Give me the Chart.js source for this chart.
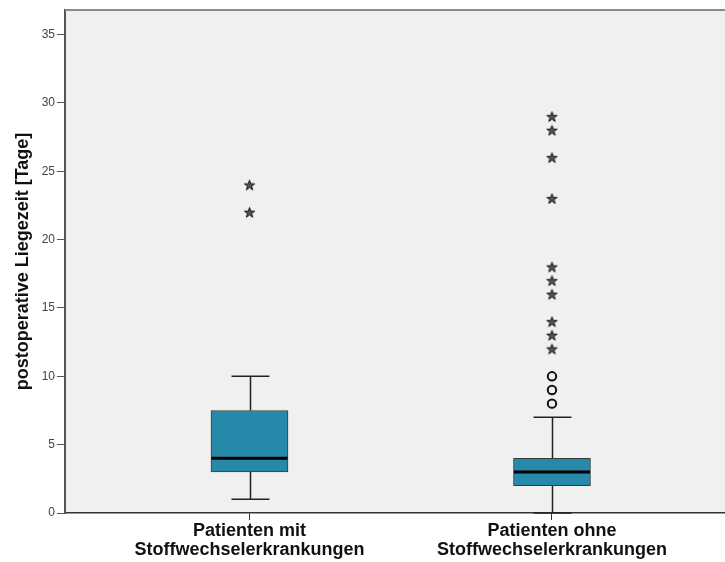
<!DOCTYPE html>
<html>
<head>
<meta charset="utf-8">
<script src="https://cdn.jsdelivr.net/npm/chart.js@4/dist/chart.umd.min.js"></script>
<style>
  html, body { margin: 0; padding: 0; background: #ffffff; }
  #wrap { width: 725px; height: 562px; }
</style>
</head>
<body>
<div id="wrap"><canvas id="c" width="725" height="562"></canvas></div>
<script>
// Gruppen (zweizeilige Beschriftung)
const groups = [
  ['Patienten mit', 'Stoffwechselerkrankungen'],
  ['Patienten ohne', 'Stoffwechselerkrankungen']
];
const groupPos = [1, 2];

// Boxplot-Kennwerte je Gruppe (Tage)
const whiskerLow  = [1, 0];
const quart1      = [3, 2];
const medianVals  = [4, 3];
const quart3      = [7.5, 4];
const whiskerHigh = [10, 7];

// Ausreißer (Kreise) und Extremwerte (Sterne)
const outliersG1 = [];
const outliersG2 = [8, 9, 10];
const extremesG1 = [22, 24];
const extremesG2 = [12, 13, 14, 16, 17, 18, 23, 26, 28, 29];

// Y-Achse
const yTicks = [0, 5, 10, 15, 20, 25, 30, 35];
const yMax = 36.8;

const FONT = "'Liberation Sans', Arial, sans-serif";

// Sternsymbol für Extremwerte
function makeStar() {
  const s = 13, c = document.createElement('canvas');
  c.width = s; c.height = s;
  const g = c.getContext('2d');
  const cx = s / 2, cy = s / 2 + 0.5, ro = 5.4, ri = 2.1;
  g.beginPath();
  for (let k = 0; k < 10; k++) {
    const r = k % 2 === 0 ? ro : ri;
    const a = -Math.PI / 2 + k * Math.PI / 5;
    const px = cx + r * Math.cos(a), py = cy + r * Math.sin(a);
    k === 0 ? g.moveTo(px, py) : g.lineTo(px, py);
  }
  g.closePath();
  g.fillStyle = '#555';
  g.fill();
  g.lineWidth = 1;
  g.strokeStyle = '#111';
  g.stroke();
  return c;
}
const starImg = makeStar();

const toPts = (vals, pos) => vals.map(v => ({ x: pos, y: v }));

const boxPlugin = {
  id: 'boxParts',
  beforeDraw(chart) {
    const { ctx, chartArea: a } = chart;
    ctx.save();
    ctx.fillStyle = '#f0f0f0';
    ctx.fillRect(a.left, a.top, a.right - a.left, a.bottom - a.top);
    ctx.restore();
  },
  beforeDatasetsDraw(chart) {
    const { ctx, scales: { x, y } } = chart;
    ctx.save();
    ctx.strokeStyle = '#222';
    ctx.lineWidth = 1.5;
    groupPos.forEach((p, i) => {
      const px = Math.round(x.getPixelForValue(p)) + 0.5;
      const capHalf = 19;
      const yl = y.getPixelForValue(whiskerLow[i]);
      const yq1 = y.getPixelForValue(quart1[i]);
      const yq3 = y.getPixelForValue(quart3[i]);
      const yh = y.getPixelForValue(whiskerHigh[i]);
      ctx.beginPath();
      ctx.moveTo(px, yq3); ctx.lineTo(px, yh);
      ctx.moveTo(px, yq1); ctx.lineTo(px, yl);
      ctx.moveTo(px - capHalf, yh); ctx.lineTo(px + capHalf, yh);
      ctx.moveTo(px - capHalf, yl); ctx.lineTo(px + capHalf, yl);
      ctx.stroke();
    });
    ctx.restore();
  },
  afterDatasetsDraw(chart) {
    const { ctx, chartArea: a, scales: { x, y } } = chart;
    ctx.save();
    ctx.strokeStyle = '#000';
    ctx.lineWidth = 3;
    groupPos.forEach((p, i) => {
      const px = x.getPixelForValue(p);
      const ym = y.getPixelForValue(medianVals[i]);
      ctx.beginPath();
      ctx.moveTo(px - 38, ym); ctx.lineTo(px + 38, ym);
      ctx.stroke();
    });
    // oberer Rahmen
    ctx.strokeStyle = '#8a8a8a';
    ctx.lineWidth = 2;
    ctx.beginPath();
    ctx.moveTo(a.left, a.top); ctx.lineTo(a.right, a.top);
    ctx.stroke();
    ctx.restore();
  }
};

new Chart(document.getElementById('c'), {
  type: 'bar',
  data: {
    datasets: [
      {
        type: 'bar',
        data: groupPos.map((p, i) => ({ x: p, y: [quart1[i], quart3[i]] })),
        backgroundColor: '#2689aa',
        borderColor: '#3a3a3a',
        borderWidth: 1,
        borderSkipped: false,
        barThickness: 77
      },
      {
        type: 'scatter',
        data: toPts(outliersG1, 1).concat(toPts(outliersG2, 2)),
        pointStyle: 'circle',
        pointRadius: 4.2,
        pointBorderWidth: 2,
        pointBorderColor: '#111',
        pointBackgroundColor: '#f0f0f0'
      },
      {
        type: 'scatter',
        data: toPts(extremesG1, 1).concat(toPts(extremesG2, 2)),
        pointStyle: starImg,
        pointRadius: 6
      }
    ]
  },
  options: {
    responsive: false,
    animation: false,
    layout: { autoPadding: false, padding: { top: 10, right: 0, left: 0, bottom: 0 } },
    plugins: { legend: { display: false }, tooltip: { enabled: false } },
    scales: {
      x: {
        type: 'linear',
        offset: false,
        min: 0.39,
        max: 2.572,
        afterBuildTicks: s => { s.ticks = groupPos.map(v => ({ value: v })); },
        afterFit: s => { s.height = 49; s.paddingLeft = 0; s.paddingRight = 0; },
        ticks: {
          autoSkip: false,
          maxRotation: 0,
          padding: 2,
          color: '#111',
          font: { family: FONT, size: 18, weight: 'bold', lineHeight: 1.04 },
          callback: v => {
            const i = groupPos.indexOf(v);
            return i >= 0 ? groups[i] : '';
          }
        },
        grid: { offset: false, drawOnChartArea: false, tickLength: 7, color: '#333', lineWidth: 1 },
        border: { color: '#333', width: 1.5 }
      },
      y: {
        min: 0,
        max: yMax,
        afterBuildTicks: s => { s.ticks = yTicks.map(v => ({ value: v })); },
        afterFit: s => { s.width = 65; s.paddingTop = 0; s.paddingBottom = 0; },
        ticks: {
          padding: 2,
          color: '#444',
          font: { family: FONT, size: 12 }
        },
        grid: { drawOnChartArea: false, tickLength: 8, color: '#555', lineWidth: 1 },
        border: { color: '#555', width: 2 },
        title: {
          display: true,
          text: 'postoperative Liegezeit [Tage]',
          color: '#111',
          font: { family: FONT, size: 18, weight: 'bold' },
          padding: { top: 12.5, bottom: 0 }
        }
      }
    }
  },
  plugins: [boxPlugin]
});
</script>
</body>
</html>
